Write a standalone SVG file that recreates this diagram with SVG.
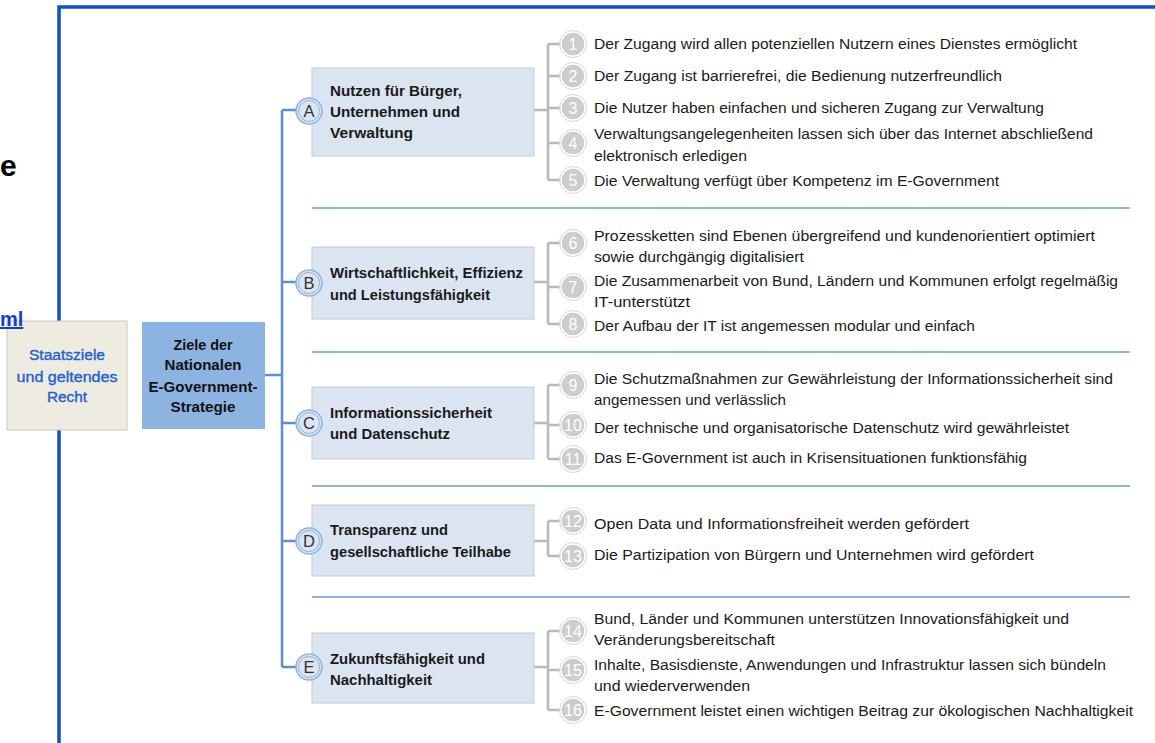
<svg xmlns="http://www.w3.org/2000/svg" width="1155" height="743" viewBox="0 0 1155 743">
<style>
.item{font-family:"Liberation Sans",Arial,sans-serif;font-size:14px;fill:#1a1a1a}
.goal{font-family:"Liberation Sans",Arial,sans-serif;font-size:14.5px;font-weight:bold;fill:#1a1a1a}
.let{font-family:"Liberation Sans",Arial,sans-serif;font-size:16.5px;fill:#333;text-anchor:middle}
.num{font-family:"Liberation Sans",Arial,sans-serif;font-size:16px;fill:#fff;text-anchor:middle}
.gbox{fill:#dbe5f1;stroke:#c4ccd6;stroke-width:1}
.lc{fill:#dbe5f1;stroke:#8db3e2;stroke-width:1.5}
.lc2{fill:none;stroke:#8db3e2;stroke-width:1}
.nc{fill:#cdcdcd;stroke:#fff;stroke-width:1.5}
.nc2{fill:none;stroke:#d6d6d6;stroke-width:1}
.br{fill:none;stroke:#b9b9b9;stroke-width:2.5}
.sep{stroke:#6f9bd6;stroke-width:1.5}
.tree{fill:none;stroke:#5b8fd4;stroke-width:2.5}
</style>
<rect width="1155" height="743" fill="#fff"/>
<!-- frame -->
<path d="M59,743 V7 H1155" fill="none" stroke="#0a4fd6" stroke-width="3.5"/>

<g id="connectors">
<path class="tree" d="M265,375 H282 M282,110 V667 M282,110 H297 M282,282 H297 M282,423 H297 M282,541 H297 M282,667 H297"/>
<line class="sep" x1="312" y1="208" x2="1130" y2="208"/>
<line class="sep" x1="312" y1="352" x2="1130" y2="352"/>
<line class="sep" x1="312" y1="486" x2="1130" y2="486"/>
<line class="sep" x1="312" y1="597" x2="1130" y2="597"/>
<path class="br" d="M534,110 H548 M548,44 V180 M548,44 H562 M548,76 H562 M548,108 H562 M548,143 H562 M548,180 H562"/>
<path class="br" d="M534,282 H548 M548,243 V324 M548,243 H562 M548,287 H562 M548,324 H562"/>
<path class="br" d="M534,423 H548 M548,385 V459 M548,385 H562 M548,425 H562 M548,459 H562"/>
<path class="br" d="M534,541 H548 M548,521 V556 M548,521 H562 M548,556 H562"/>
<path class="br" d="M534,667 H548 M548,631 V710 M548,631 H562 M548,670 H562 M548,710 H562"/>
</g>

<g id="staatsziele">
<rect x="7" y="321" width="120" height="109" fill="#eeece1" stroke="#cfcab4" stroke-width="1"/>
<g font-family="'Liberation Sans',Arial,sans-serif" font-size="14" fill="#1f5fd6" stroke="#1f5fd6" stroke-width="0.35" text-anchor="middle">
<text x="67" y="360" textLength="76" lengthAdjust="spacingAndGlyphs">Staatsziele</text>
<text x="67" y="382" textLength="101" lengthAdjust="spacingAndGlyphs">und geltendes</text>
<text x="67" y="402" textLength="40" lengthAdjust="spacingAndGlyphs">Recht</text>
</g>
</g>

<!-- cut-off fragments -->
<text x="0" y="176" font-family="'Liberation Sans',Arial,sans-serif" font-size="30" font-weight="bold" fill="#000">e</text>
<text x="0" y="326" font-family="'Liberation Sans',Arial,sans-serif" font-size="20" font-weight="bold" fill="#0b3fd8" text-decoration="underline">ml</text>

<g id="ziele">
<rect x="142" y="322" width="123" height="107" fill="#8db3e2"/>
<g font-family="'Liberation Sans',Arial,sans-serif" font-size="14" font-weight="bold" fill="#111" text-anchor="middle">
<text x="203" y="350" textLength="59" lengthAdjust="spacingAndGlyphs">Ziele der</text>
<text x="203" y="370" textLength="77" lengthAdjust="spacingAndGlyphs">Nationalen</text>
<text x="203" y="392" textLength="109" lengthAdjust="spacingAndGlyphs">E-Government-</text>
<text x="203" y="412" textLength="65" lengthAdjust="spacingAndGlyphs">Strategie</text>
</g>
</g>

<g id="goalA">
<rect class="gbox" x="312" y="68" width="222" height="88"/>
<circle class="lc" cx="309" cy="111" r="13"/><circle class="lc2" cx="309" cy="111" r="10.5"/>
<text class="let" x="309" y="117">A</text>
<text class="goal" x="330" y="96" textLength="132" lengthAdjust="spacingAndGlyphs">Nutzen für Bürger,</text>
<text class="goal" x="330" y="117" textLength="130" lengthAdjust="spacingAndGlyphs">Unternehmen und</text>
<text class="goal" x="330" y="138" textLength="83" lengthAdjust="spacingAndGlyphs">Verwaltung</text>
</g>
<g id="goalB">
<rect class="gbox" x="312" y="247" width="222" height="72"/>
<circle class="lc" cx="309" cy="283" r="13"/><circle class="lc2" cx="309" cy="283" r="10.5"/>
<text class="let" x="309" y="289">B</text>
<text class="goal" x="330" y="278" textLength="193" lengthAdjust="spacingAndGlyphs">Wirtschaftlichkeit, Effizienz</text>
<text class="goal" x="330" y="300" textLength="160" lengthAdjust="spacingAndGlyphs">und Leistungsfähigkeit</text>
</g>
<g id="goalC">
<rect class="gbox" x="312" y="387" width="222" height="72"/>
<circle class="lc" cx="309" cy="423" r="13"/><circle class="lc2" cx="309" cy="423" r="10.5"/>
<text class="let" x="309" y="429">C</text>
<text class="goal" x="330" y="418" textLength="162" lengthAdjust="spacingAndGlyphs">Informationssicherheit</text>
<text class="goal" x="330" y="439" textLength="120" lengthAdjust="spacingAndGlyphs">und Datenschutz</text>
</g>
<g id="goalD">
<rect class="gbox" x="312" y="505" width="222" height="71"/>
<circle class="lc" cx="309" cy="541" r="13"/><circle class="lc2" cx="309" cy="541" r="10.5"/>
<text class="let" x="309" y="547">D</text>
<text class="goal" x="330" y="535" textLength="118" lengthAdjust="spacingAndGlyphs">Transparenz und</text>
<text class="goal" x="330" y="557" textLength="181" lengthAdjust="spacingAndGlyphs">gesellschaftliche Teilhabe</text>
</g>
<g id="goalE">
<rect class="gbox" x="312" y="633" width="222" height="70"/>
<circle class="lc" cx="309" cy="667" r="13"/><circle class="lc2" cx="309" cy="667" r="10.5"/>
<text class="let" x="309" y="673">E</text>
<text class="goal" x="330" y="664" textLength="155" lengthAdjust="spacingAndGlyphs">Zukunftsfähigkeit und</text>
<text class="goal" x="330" y="685" textLength="102" lengthAdjust="spacingAndGlyphs">Nachhaltigkeit</text>
</g>

<g id="item1"><circle class="nc" cx="573" cy="44" r="12"/><circle class="nc2" cx="573" cy="44" r="13.5"/><text class="num" x="573" y="50">1</text>
<text class="item" x="594" y="49" textLength="483" lengthAdjust="spacingAndGlyphs">Der Zugang wird allen potenziellen Nutzern eines Dienstes ermöglicht</text></g>
<g id="item2"><circle class="nc" cx="573" cy="76" r="12"/><circle class="nc2" cx="573" cy="76" r="13.5"/><text class="num" x="573" y="82">2</text>
<text class="item" x="594" y="81" textLength="408" lengthAdjust="spacingAndGlyphs">Der Zugang ist barrierefrei, die Bedienung nutzerfreundlich</text></g>
<g id="item3"><circle class="nc" cx="573" cy="108" r="12"/><circle class="nc2" cx="573" cy="108" r="13.5"/><text class="num" x="573" y="114">3</text>
<text class="item" x="594" y="113" textLength="450" lengthAdjust="spacingAndGlyphs">Die Nutzer haben einfachen und sicheren Zugang zur Verwaltung</text></g>
<g id="item4"><circle class="nc" cx="573" cy="143" r="12"/><circle class="nc2" cx="573" cy="143" r="13.5"/><text class="num" x="573" y="149">4</text>
<text class="item" x="594" y="139" textLength="499" lengthAdjust="spacingAndGlyphs">Verwaltungsangelegenheiten lassen sich über das Internet abschließend</text>
<text class="item" x="594" y="161" textLength="153" lengthAdjust="spacingAndGlyphs">elektronisch erledigen</text></g>
<g id="item5"><circle class="nc" cx="573" cy="180" r="12"/><circle class="nc2" cx="573" cy="180" r="13.5"/><text class="num" x="573" y="186">5</text>
<text class="item" x="594" y="186" textLength="405" lengthAdjust="spacingAndGlyphs">Die Verwaltung verfügt über Kompetenz im E-Government</text></g>
<g id="item6"><circle class="nc" cx="573" cy="243" r="12"/><circle class="nc2" cx="573" cy="243" r="13.5"/><text class="num" x="573" y="249">6</text>
<text class="item" x="594" y="241" textLength="501" lengthAdjust="spacingAndGlyphs">Prozessketten sind Ebenen übergreifend und kundenorientiert optimiert</text>
<text class="item" x="594" y="262" textLength="210" lengthAdjust="spacingAndGlyphs">sowie durchgängig digitalisiert</text></g>
<g id="item7"><circle class="nc" cx="573" cy="287" r="12"/><circle class="nc2" cx="573" cy="287" r="13.5"/><text class="num" x="573" y="293">7</text>
<text class="item" x="594" y="286" textLength="524" lengthAdjust="spacingAndGlyphs">Die Zusammenarbeit von Bund, Ländern und Kommunen erfolgt regelmäßig</text>
<text class="item" x="594" y="307" textLength="96" lengthAdjust="spacingAndGlyphs">IT-unterstützt</text></g>
<g id="item8"><circle class="nc" cx="573" cy="324" r="12"/><circle class="nc2" cx="573" cy="324" r="13.5"/><text class="num" x="573" y="330">8</text>
<text class="item" x="594" y="331" textLength="381" lengthAdjust="spacingAndGlyphs">Der Aufbau der IT ist angemessen modular und einfach</text></g>
<g id="item9"><circle class="nc" cx="573" cy="385" r="12"/><circle class="nc2" cx="573" cy="385" r="13.5"/><text class="num" x="573" y="391">9</text>
<text class="item" x="594" y="384" textLength="519" lengthAdjust="spacingAndGlyphs">Die Schutzmaßnahmen zur Gewährleistung der Informationssicherheit sind</text>
<text class="item" x="594" y="405" textLength="192" lengthAdjust="spacingAndGlyphs">angemessen und verlässlich</text></g>
<g id="item10"><circle class="nc" cx="573" cy="425" r="12"/><circle class="nc2" cx="573" cy="425" r="13.5"/><text class="num" x="573" y="431">10</text>
<text class="item" x="594" y="433" textLength="475" lengthAdjust="spacingAndGlyphs">Der technische und organisatorische Datenschutz wird gewährleistet</text></g>
<g id="item11"><circle class="nc" cx="573" cy="459" r="12"/><circle class="nc2" cx="573" cy="459" r="13.5"/><text class="num" x="573" y="465">11</text>
<text class="item" x="594" y="463" textLength="433" lengthAdjust="spacingAndGlyphs">Das E-Government ist auch in Krisensituationen funktionsfähig</text></g>
<g id="item12"><circle class="nc" cx="573" cy="521" r="12"/><circle class="nc2" cx="573" cy="521" r="13.5"/><text class="num" x="573" y="527">12</text>
<text class="item" x="594" y="529" textLength="375" lengthAdjust="spacingAndGlyphs">Open Data und Informationsfreiheit werden gefördert</text></g>
<g id="item13"><circle class="nc" cx="573" cy="556" r="12"/><circle class="nc2" cx="573" cy="556" r="13.5"/><text class="num" x="573" y="562">13</text>
<text class="item" x="594" y="560" textLength="440" lengthAdjust="spacingAndGlyphs">Die Partizipation von Bürgern und Unternehmen wird gefördert</text></g>
<g id="item14"><circle class="nc" cx="573" cy="631" r="12"/><circle class="nc2" cx="573" cy="631" r="13.5"/><text class="num" x="573" y="637">14</text>
<text class="item" x="594" y="624" textLength="475" lengthAdjust="spacingAndGlyphs">Bund, Länder und Kommunen unterstützen Innovationsfähigkeit und</text>
<text class="item" x="594" y="645" textLength="181" lengthAdjust="spacingAndGlyphs">Veränderungsbereitschaft</text></g>
<g id="item15"><circle class="nc" cx="573" cy="670" r="12"/><circle class="nc2" cx="573" cy="670" r="13.5"/><text class="num" x="573" y="676">15</text>
<text class="item" x="594" y="670" textLength="512" lengthAdjust="spacingAndGlyphs">Inhalte, Basisdienste, Anwendungen und Infrastruktur lassen sich bündeln</text>
<text class="item" x="594" y="691" textLength="156" lengthAdjust="spacingAndGlyphs">und wiederverwenden</text></g>
<g id="item16"><circle class="nc" cx="573" cy="710" r="12"/><circle class="nc2" cx="573" cy="710" r="13.5"/><text class="num" x="573" y="716">16</text>
<text class="item" x="594" y="716" textLength="539" lengthAdjust="spacingAndGlyphs">E-Government leistet einen wichtigen Beitrag zur ökologischen Nachhaltigkeit</text></g>
</svg>
